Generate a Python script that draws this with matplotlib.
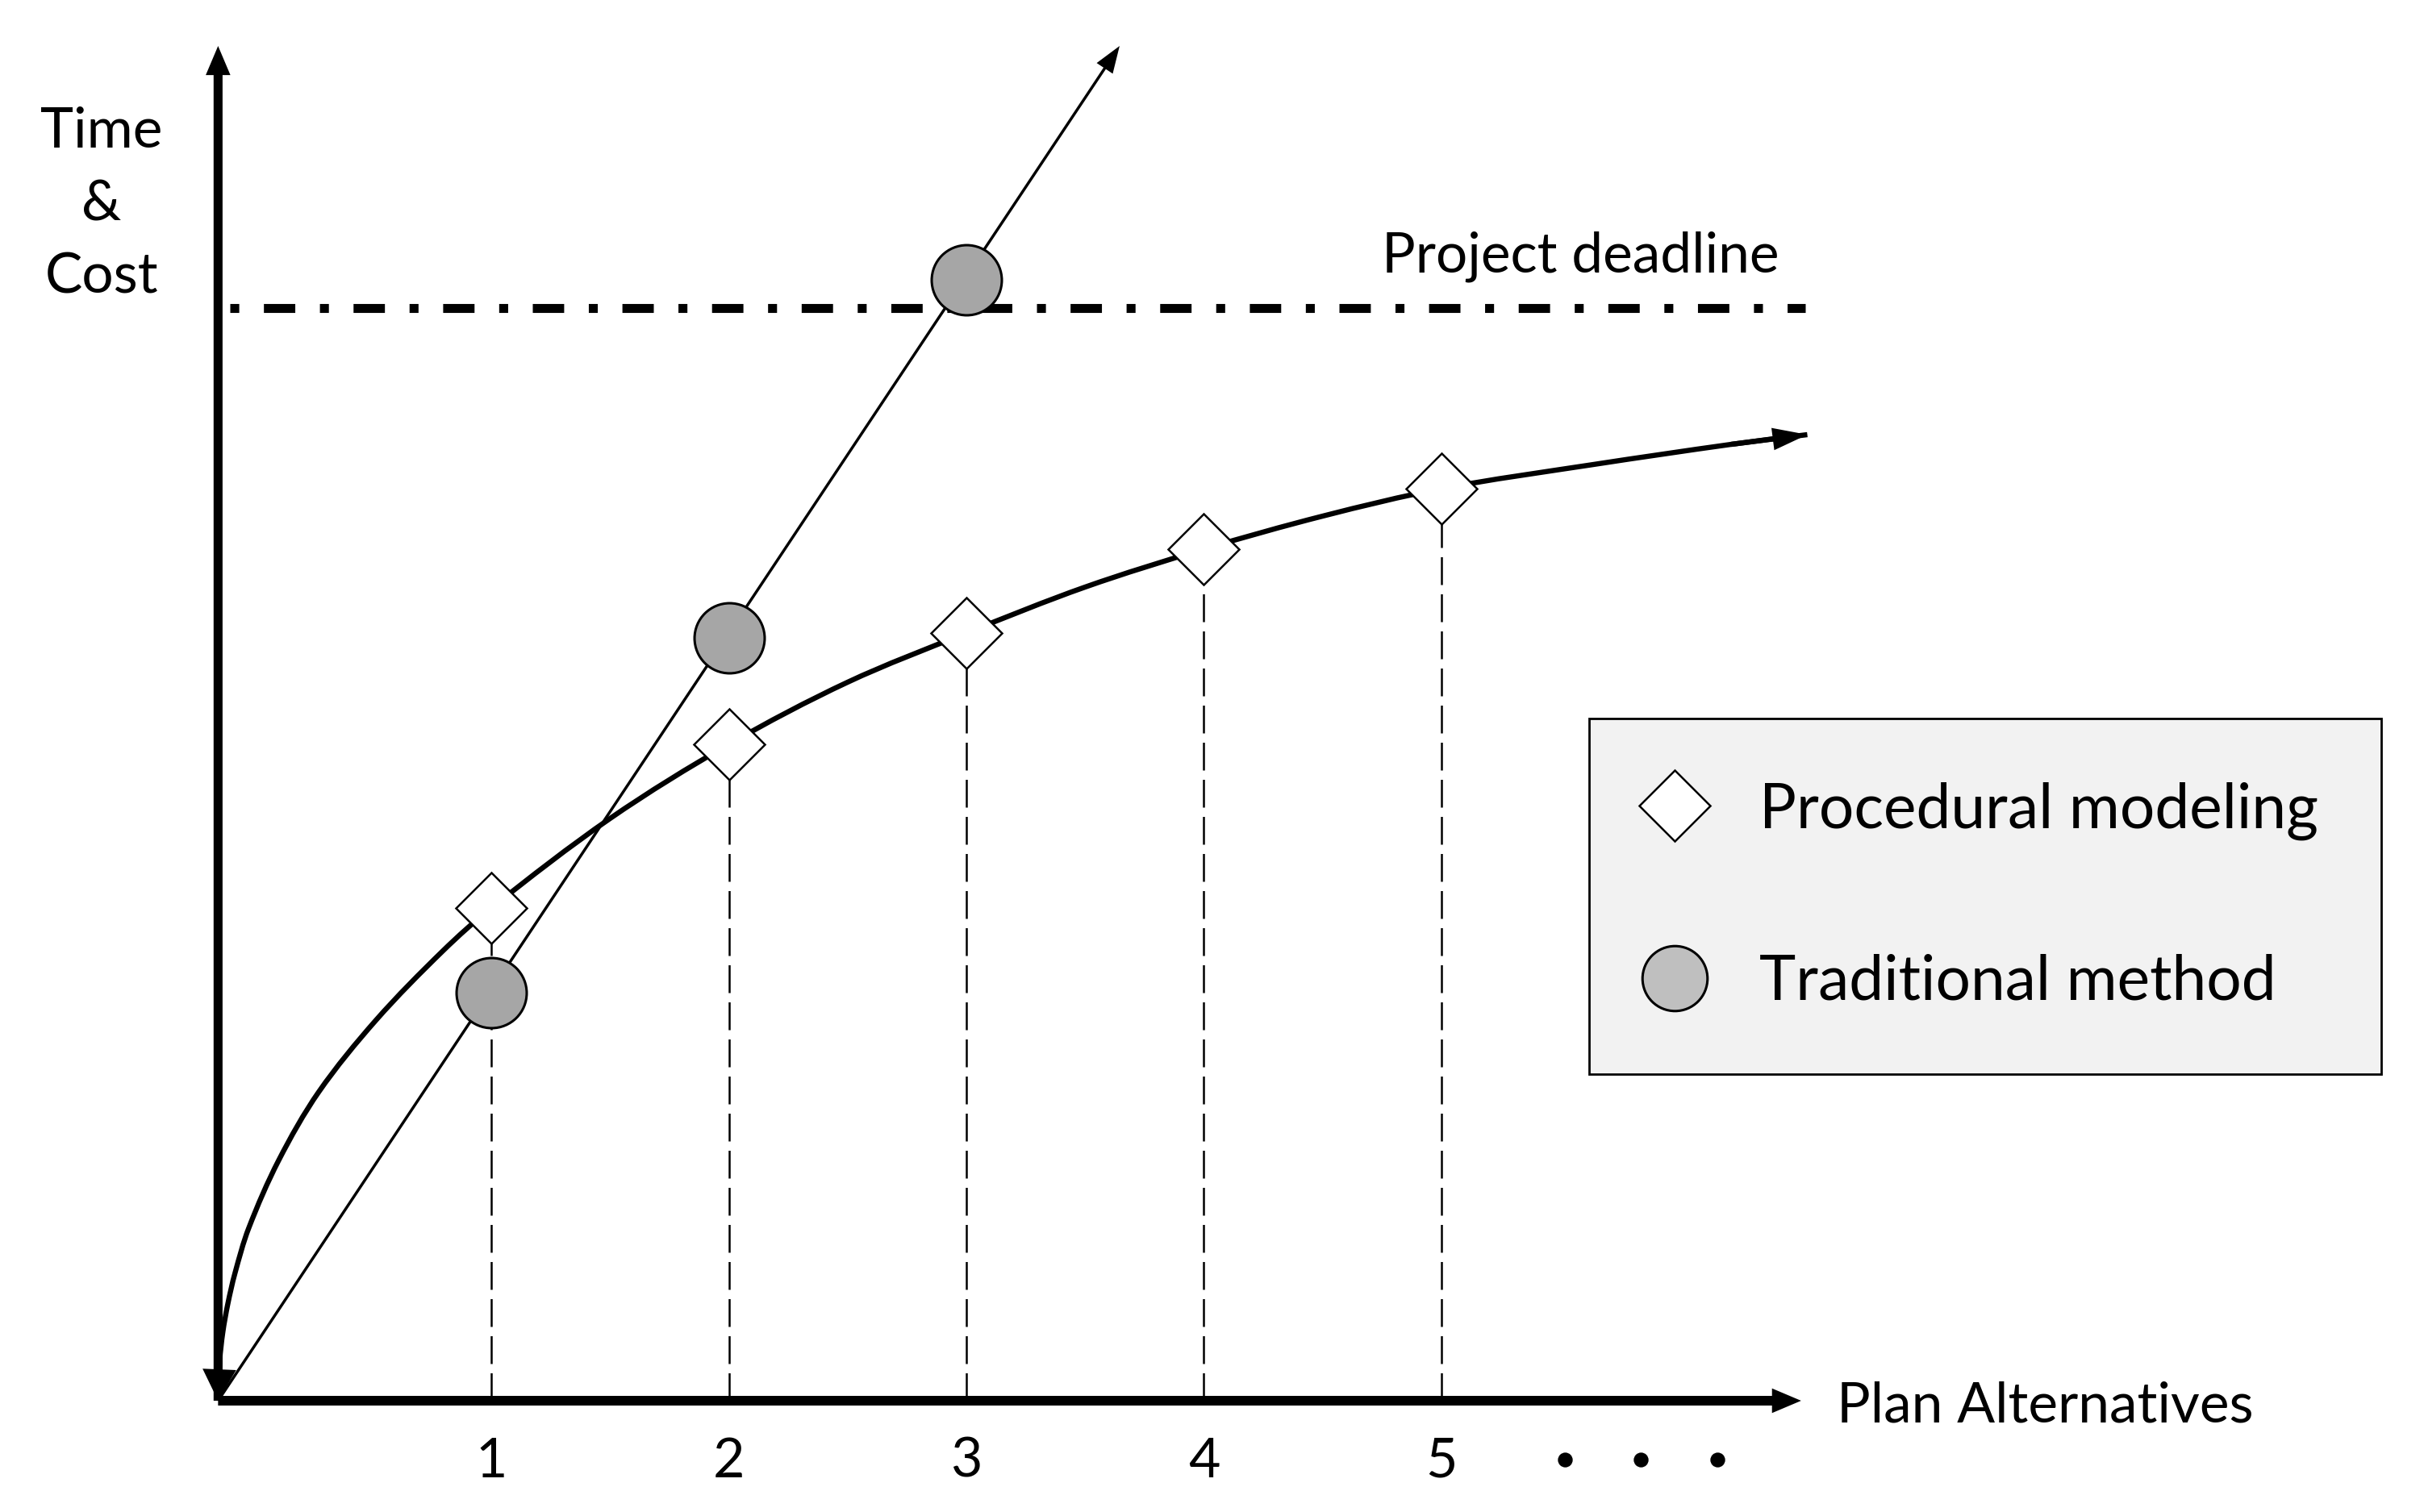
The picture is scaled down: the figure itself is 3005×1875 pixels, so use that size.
import numpy as np
import matplotlib
matplotlib.use('Agg')
import matplotlib.pyplot as plt
from matplotlib.patches import FancyArrowPatch, ArrowStyle, PathPatch
from matplotlib.path import Path
from matplotlib.lines import Line2D

plt.rcParams['font.family'] = ['Lato', 'DejaVu Sans']

# x = plan alternative, y = time & cost (arbitrary units)
alternatives = [1, 2, 3, 4, 5]
tick_labels = ['1', '2', '3', '4', '5']
procedural_y = [6.11, 8.14, 9.52, 10.56, 11.31]
traditional_x = [1, 2, 3]
traditional_y = [5.06, 9.46, 13.90]
traditional_end = (3.645, 16.8)
deadline_y = 13.55
deadline_x = [-0.10, 6.53]
origin_x = -0.15
y_axis_top = 16.8
x_axis_end = 6.514
ellipsis_x = [5.52, 5.84, 6.16]

# procedural modeling curve
curve_x = [-0.15, -0.143, -0.130, -0.109, -0.079, -0.021, 0.105, 0.274, 0.515,
           0.797, 1.0, 1.5, 2.0, 2.5, 3.0, 3.5, 4.0, 4.5, 5.0, 5.64, 6.22, 6.54]
curve_y = [0.0, 0.50, 0.85, 1.20, 1.58, 2.14, 2.98, 3.83, 4.72,
           5.58, 6.11, 7.22, 8.14, 8.91, 9.52, 10.09, 10.56, 10.97, 11.31, 11.61,
           11.86, 11.98]

fig = plt.figure(figsize=(15.025, 9.375), dpi=200)
ax = fig.add_axes([0, 0, 1, 1])
ax.set_xlim(-1.068, 9.136)
ax.set_ylim(-1.38, 17.37)
ax.axis('off')


def arrow(p0, p1, shaft, hl, hw, z=3):
    st = ArrowStyle('simple', head_length=hl, head_width=hw, tail_width=shaft)
    a = FancyArrowPatch(p0, p1, arrowstyle=st, mutation_scale=1, lw=0,
                        color='black', shrinkA=0, shrinkB=0, zorder=z)
    ax.add_patch(a)


def smooth_path(xs, ys, sx=294.5, sy=100.0):
    # bezier through the read points, tangents from neighbours (px-like space)
    p = np.column_stack([np.asarray(xs) * sx, np.asarray(ys) * sy])
    d = np.empty_like(p)
    d[1:-1] = p[2:] - p[:-2]
    d[0] = p[1] - p[0]
    d[-1] = p[-1] - p[-2]
    t = d / np.linalg.norm(d, axis=1)[:, None]
    verts = [p[0]]
    codes = [Path.MOVETO]
    for i in range(len(p) - 1):
        seg = np.linalg.norm(p[i + 1] - p[i]) / 3
        verts += [p[i] + t[i] * seg, p[i + 1] - t[i + 1] * seg, p[i + 1]]
        codes += [Path.CURVE4] * 3
    verts = np.array(verts) / [sx, sy]
    return Path(verts, codes)


# axes
arrow((origin_x, 0), (origin_x, y_axis_top), 4.0, 13, 11)
arrow((origin_x, 0), (x_axis_end, 0), 4.3, 13, 11)

# project deadline
ax.plot(deadline_x, [deadline_y] * 2, color='black', lw=4.0,
        ls=(0, (1, 2.75, 3.5, 2.75)), dash_capstyle='butt', zorder=2)
ax.text(4.749, 14.0, 'Project deadline', fontsize=25, ha='left', va='baseline')

# drop lines
ax.vlines(alternatives, 0, procedural_y, colors='black', lw=0.9,
          linestyles=[(0, (13.8, 4.6))], zorder=1)

# traditional method
arrow((origin_x, 0), traditional_end, 1.25, 12, 8.6, z=3)
ax.plot(traditional_x, traditional_y, 'o', ms=31.3, mfc='#a6a6a6', mec='black',
        mew=1.1, ls='none', zorder=6)

# procedural modeling
ax.add_patch(PathPatch(smooth_path(curve_x, curve_y), fc='none', ec='black',
                       lw=2.3, capstyle='butt', zorder=4))
arrow((curve_x[-2], curve_y[-2]), (curve_x[-1], curve_y[-1]), 2.3, 15.5, 10, z=4)
arrow((curve_x[1], curve_y[1]), (curve_x[0], curve_y[0]), 2.3, 14, 15, z=4)
ax.plot(alternatives, procedural_y, 'D', ms=22.3, mfc='white', mec='black',
        mew=0.9, ls='none', zorder=6)

# axis text
for i, word in enumerate(['Time', '&', 'Cost']):
    ax.text(-0.64, 15.54 - 0.9 * i, word, fontsize=25, ha='center', va='baseline')
ax.text(6.664, -0.27, 'Plan Alternatives', fontsize=25, ha='left', va='baseline')
for x, lab in zip(alternatives, tick_labels):
    ax.text(x, -0.95, lab, fontsize=24.5, ha='center', va='baseline')
ax.plot(ellipsis_x, [-0.73] * 3, 'o', ms=5.6, color='black', ls='none')

# legend
handles = [
    Line2D([], [], marker='D', ms=22.3, mfc='white', mec='black', mew=0.9, ls='none'),
    Line2D([], [], marker='o', ms=29, mfc='#bfbfbf', mec='black', mew=1.1, ls='none'),
]
leg = ax.legend(handles, ['Procedural modeling', 'Traditional method'],
                loc='upper left', bbox_to_anchor=(1970 / 3005, 1 - 891 / 1875),
                bbox_transform=fig.transFigure, borderaxespad=0, borderpad=1.02,
                labelspacing=1.84, handlelength=0.73, handletextpad=1.0,
                fontsize=27.6, frameon=True, fancybox=False, framealpha=1)
leg.get_frame().set_facecolor('#f2f2f2')
leg.get_frame().set_edgecolor('black')
leg.get_frame().set_linewidth(1.0)

fig.savefig('out.png', dpi=200, facecolor='white')
